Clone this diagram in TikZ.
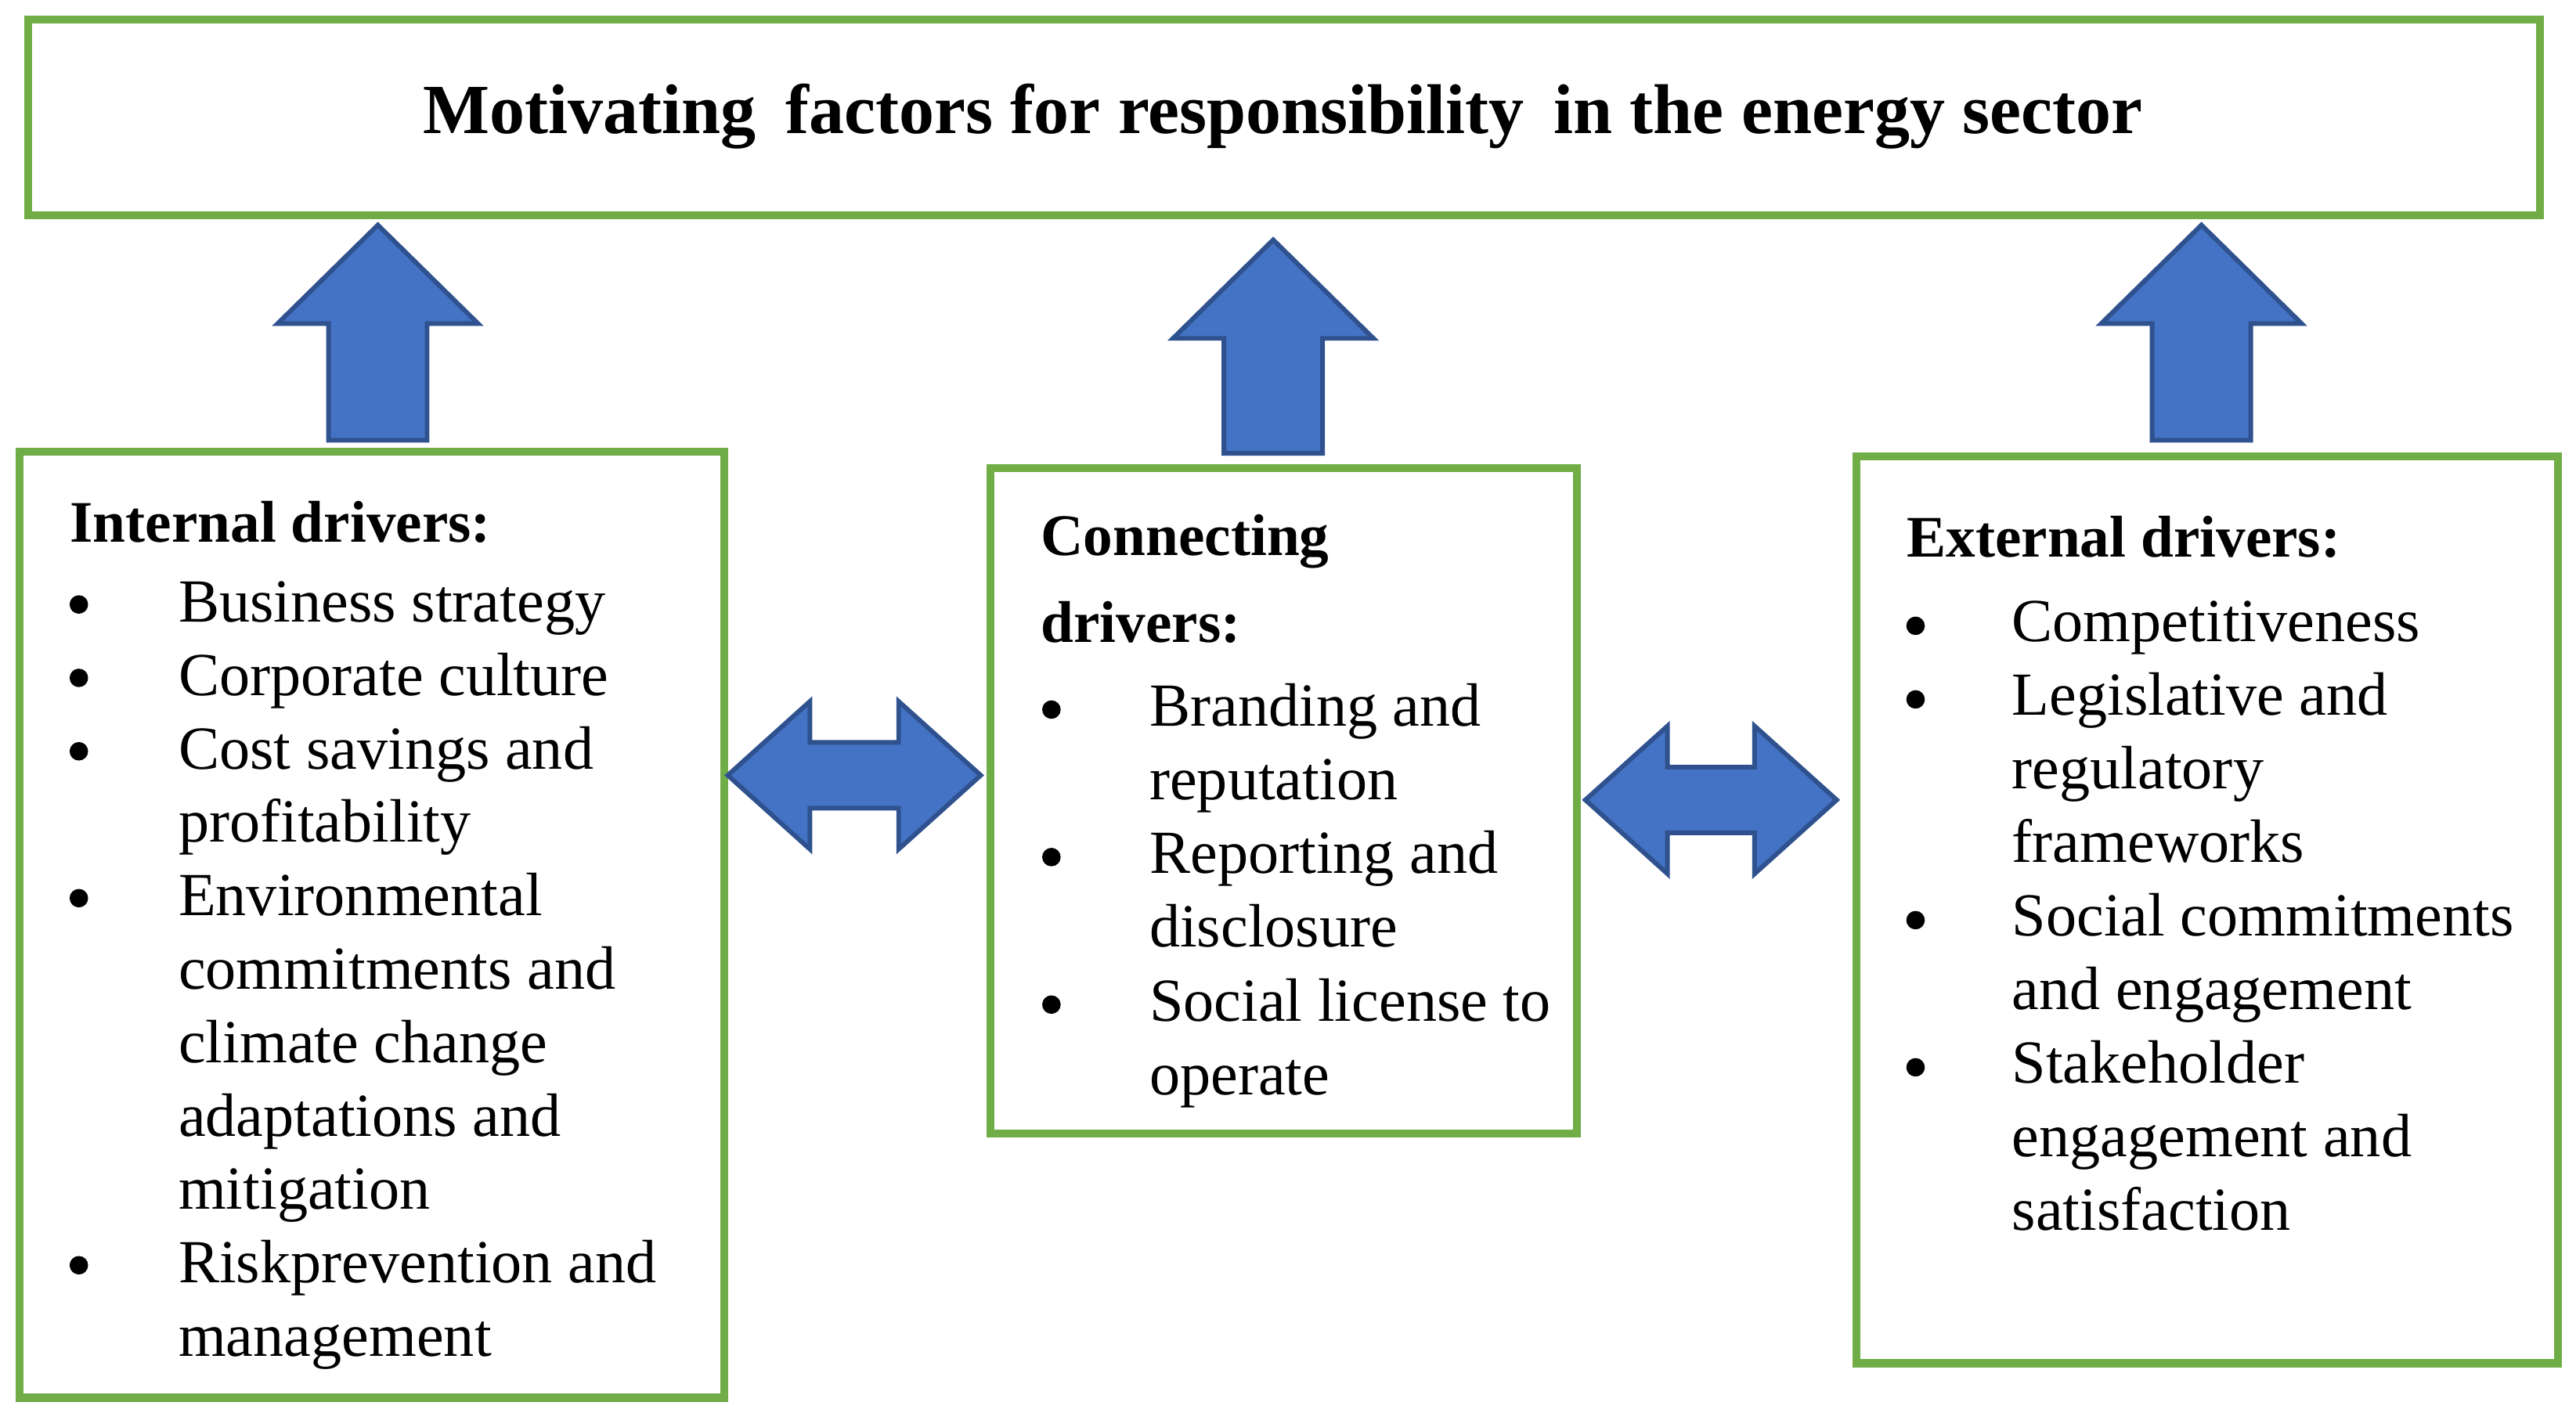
\documentclass[tikz,border=0pt]{standalone}
\usepackage{fontspec}
\setmainfont{Liberation Serif}
\definecolor{boxgreen}{HTML}{70AD47}
\definecolor{arrowblue}{HTML}{4472C4}
\definecolor{arrowedge}{HTML}{2F528F}
\tikzset{
	box/.style={draw=boxgreen, line width=1.4pt},
	blockarrow/.style={fill=arrowblue, draw=arrowedge, line width=0.8pt},
	item/.style={anchor=base west, inner sep=0pt, font=\fontsize{10.6}{12}\selectfont},
	head/.style={anchor=base west, inner sep=0pt, font=\fontsize{10.2}{12}\selectfont\bfseries},
	dot/.style={circle, fill=black, inner sep=0pt, minimum size=3.2pt}
}
\newcommand{\uparrowat}[3]{% x, bottom, tip
	\filldraw[blockarrow] (#1-30,#2) -- (#1-30,#3+60) -- (#1-61,#3+60) -- (#1,#3)
		-- (#1+61,#3+60) -- (#1+30,#3+60) -- (#1+30,#2) -- cycle;}
\newcommand{\twowayat}[3]{% left, right, y
	\filldraw[blockarrow] (#1,#3) -- (#1+50,#3-45) -- (#1+50,#3-20) -- (#2-50,#3-20)
		-- (#2-50,#3-45) -- (#2,#3) -- (#2-50,#3+45) -- (#2-50,#3+20)
		-- (#1+50,#3+20) -- (#1+50,#3+45) -- cycle;}
\begin{document}
\begin{tikzpicture}[x=0.01cm, y=-0.01cm]
	\useasboundingbox (0,0) rectangle (1568,860);
	% boxes
	\draw[box] (17,12) rectangle (1546,131);
	\node[font=\fontsize{12.2}{15}\selectfont\bfseries] (title) at (781,71) {Motivating\, factors for responsibility\, in the energy sector};
	\draw[box] (12,275) rectangle (441,851);
	\draw[box] (603,285) rectangle (960,690);
	\draw[box] (1130,278) rectangle (1557,830);
	% arrows
	\uparrowat{230}{268}{137}
	\uparrowat{775}{276}{146}
	\uparrowat{1340}{268}{137}
	\twowayat{443}{597}{472}
	\twowayat{965}{1118}{487}
	% internal
	\node[head] (int) at (42,330) {Internal drivers:};
	\foreach \t [count=\i] in {Business strategy, Corporate culture, Cost savings and, profitability, Environmental, commitments and, climate change, adaptations and, mitigation, Riskprevention and, management}
		\node[item] (int\i) at (108,{334+44.7*\i}) {\t};
	\foreach \i in {1,2,3,5,10} \node[dot] (intd\i) at (48,{368+44.7*(\i-1)}) {};
	% connecting
	\node[head] (con) at (633,338) {Connecting};
	\node[head] (con0) at (633,391) {drivers:};
	\foreach \t [count=\i] in {Branding and, reputation, Reporting and, disclosure, Social license to, operate}
		\node[item] (con\i) at (699,{397+44.9*\i}) {\t};
	\foreach \i in {1,3,5} \node[dot] (cond\i) at (640,{432+44.9*(\i-1)}) {};
	% external
	\node[head] (ext) at (1160,339) {External drivers:};
	\foreach \t [count=\i] in {Competitiveness, Legislative and, regulatory, frameworks, Social commitments, and engagement, Stakeholder, engagement and, satisfaction}
		\node[item] (ext\i) at (1224,{346+44.8*\i}) {\t};
	\foreach \i in {1,2,5,7} \node[dot] (extd\i) at (1166,{381+44.8*(\i-1)}) {};
\end{tikzpicture}
\end{document}
